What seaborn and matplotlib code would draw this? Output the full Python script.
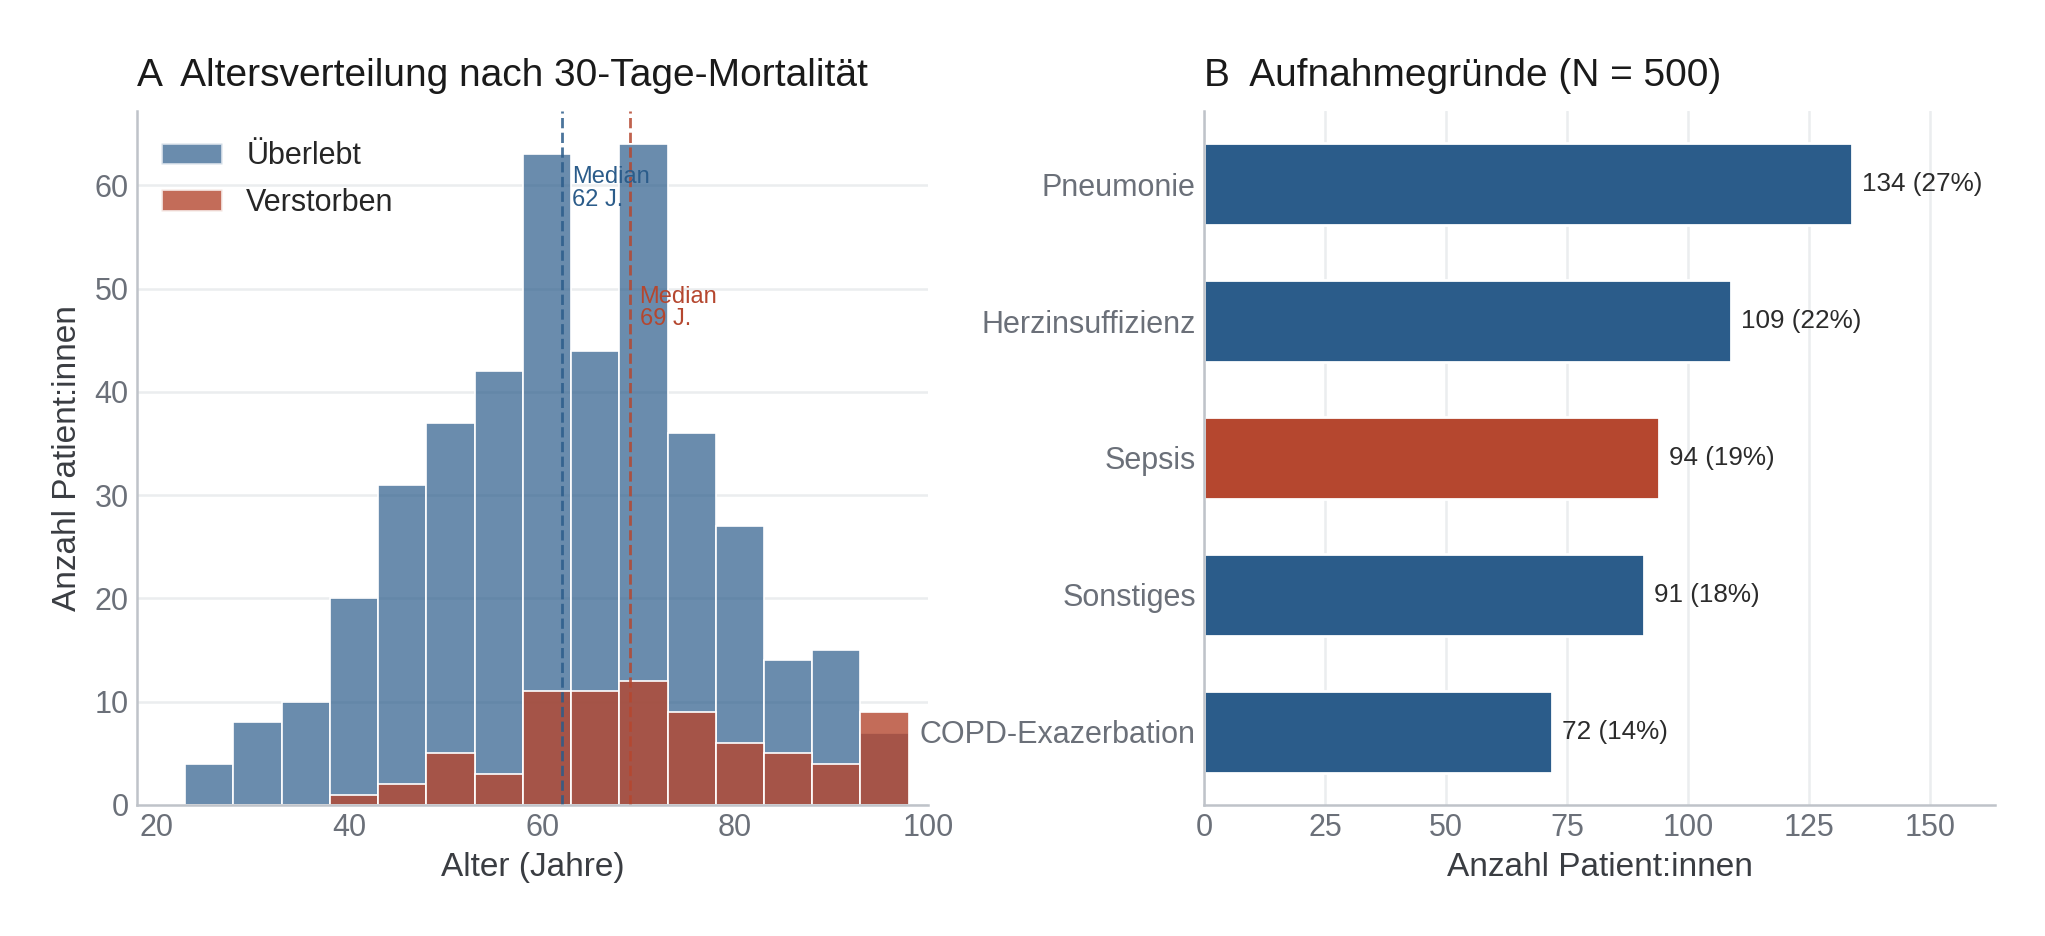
import numpy as np
import pandas as pd
import matplotlib
matplotlib.use("Agg")
import matplotlib.pyplot as plt
import seaborn as sns
from matplotlib.patches import Patch

sns.set_theme(style="white")
plt.rcParams['font.family'] = ['Liberation Sans', 'DejaVu Sans']

# ---- Data ----
bin_edges = [18, 23, 28, 33, 38, 43, 48, 53, 58, 63, 68, 73, 78, 83, 88, 93, 98]
survived_counts = [0, 4, 8, 10, 20, 31, 37, 42, 63, 44, 64, 36, 27, 14, 15, 7]
died_counts = [0, 0, 0, 0, 1, 2, 5, 3, 11, 11, 12, 9, 6, 5, 4, 9]
median_survived = 62.1
median_died = 69.1
group_labels = ["Überlebt", "Verstorben"]

reasons = ["Pneumonie", "Herzinsuffizienz", "Sepsis", "Sonstiges", "COPD-Exazerbation"]
reason_counts = [134, 109, 94, 91, 72]
n_total = 500

BLUE = "#2B5C8A"
RED = "#B5472F"
GRID = "#EBEDEF"
SPINE = "#BFC3C9"
TICK = "#6B7079"
LABEL = "#3A3D42"

edges = [float(e) for e in bin_edges]
mids = [(a + b) / 2 for a, b in zip(edges[:-1], edges[1:])]
df_s = pd.DataFrame({"age": mids, "n": survived_counts})
df_d = pd.DataFrame({"age": mids, "n": died_counts})

fig = plt.figure(figsize=(2045 / 200, 936 / 200), dpi=200)
axA = fig.add_axes([0.067, 0.14, 0.3868, 0.7414])
axB = fig.add_axes([0.5888, 0.14, 0.3868, 0.7414])

# ---- Panel A ----
sns.histplot(data=df_s, x="age", weights="n", bins=edges, ax=axA,
             color=BLUE, alpha=0.7, edgecolor="white", linewidth=0.6)
sns.histplot(data=df_d, x="age", weights="n", bins=edges, ax=axA,
             color=RED, alpha=0.8, edgecolor="white", linewidth=0.6)

axA.axvline(median_survived, color=BLUE, ls="--", lw=1.0, alpha=0.85)
axA.axvline(median_died, color=RED, ls="--", lw=1.0, alpha=0.85)
axA.text(median_survived + 1.0, 61.9, f"Median\n{median_survived:.0f} J.", color=BLUE,
         fontsize=8.5, ha="left", va="top", linespacing=1.05)
axA.text(median_died + 1.0, 50.3, f"Median\n{median_died:.0f} J.", color=RED,
         fontsize=8.5, ha="left", va="top", linespacing=1.05)

axA.set_xlim(18, 100)
axA.set_ylim(0, 67.2)
axA.set_xticks([20, 40, 60, 80, 100])
axA.set_yticks([0, 10, 20, 30, 40, 50, 60])
axA.yaxis.grid(True, color=GRID, lw=0.9)
axA.xaxis.grid(False)
axA.set_axisbelow(True)
axA.set_xlabel("Alter (Jahre)", fontsize=12, color=LABEL, labelpad=3)
axA.set_ylabel("Anzahl Patient:innen", fontsize=12, color=LABEL, labelpad=4)
axA.set_title("A  Altersverteilung nach 30-Tage-Mortalität", loc="left",
              fontsize=14, color="#1a1a1a", pad=9)

handles = [Patch(facecolor=BLUE, alpha=0.7, edgecolor="white"),
           Patch(facecolor=RED, alpha=0.8, edgecolor="white")]
axA.legend(handles, group_labels, loc="upper left", frameon=False, fontsize=11,
           bbox_to_anchor=(-0.008, 1.0), borderaxespad=0.58, handlelength=2.0,
           labelspacing=0.55)

# ---- Panel B ----
bar_colors = [RED if r == "Sepsis" else BLUE for r in reasons]
dfB = pd.DataFrame({"reason": reasons, "n": reason_counts})
sns.barplot(data=dfB, x="n", y="reason", hue="reason", palette=bar_colors,
            legend=False, orient="h", width=0.6, ax=axB, saturation=1)
for i, v in enumerate(reason_counts):
    axB.annotate(f"{v} ({v / n_total * 100:.0f}%)", xy=(v, i), xytext=(3.5, 0),
                 textcoords="offset points", va="center", ha="left",
                 fontsize=9.4, color="#2b2b2b")
axB.set_xlim(0, 163.5)
axB.set_ylim(4.533, -0.533)
axB.set_xticks([0, 25, 50, 75, 100, 125, 150])
axB.xaxis.grid(True, color=GRID, lw=0.9)
axB.yaxis.grid(False)
axB.set_axisbelow(True)
axB.set_xlabel("Anzahl Patient:innen", fontsize=12, color=LABEL, labelpad=3)
axB.set_ylabel("")
axB.set_title("B  Aufnahmegründe (N = 500)", loc="left", fontsize=14,
              color="#1a1a1a", pad=9)

for ax in (axA, axB):
    for s in ("top", "right"):
        ax.spines[s].set_visible(False)
    for s in ("left", "bottom"):
        ax.spines[s].set_color(SPINE)
        ax.spines[s].set_linewidth(0.9)
    ax.tick_params(axis="both", length=0, labelsize=11, labelcolor=TICK, pad=3)

fig.savefig("out.png", dpi=200, facecolor="white")
